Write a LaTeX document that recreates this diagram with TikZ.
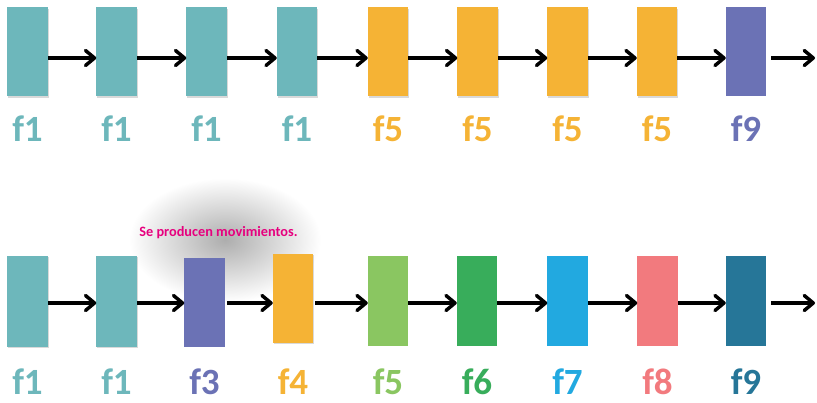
\documentclass[tikz,border=0pt]{standalone}
\usepackage{fontspec}
\setmainfont{Carlito}
\usetikzlibrary{positioning,arrows.meta,shadows}

\definecolor{fteal}{HTML}{6DB7BB}
\definecolor{forange}{HTML}{F5B335}
\definecolor{fpurple}{HTML}{6B72B5}
\definecolor{flime}{HTML}{8AC661}
\definecolor{fgreen}{HTML}{38AD5B}
\definecolor{fsky}{HTML}{22A9E0}
\definecolor{fsalmon}{HTML}{F27A7E}
\definecolor{fpetrol}{HTML}{267698}
\definecolor{fpink}{HTML}{E6007E}

\begin{document}
\begin{tikzpicture}[x=1pt,y=-1pt,
    box/.style={fill=#1,minimum width=40.5pt,minimum height=89pt,inner sep=0pt,outer sep=0pt},
    shbox/.style={box=#1,drop shadow={shadow xshift=1pt,shadow yshift=-1.5pt,opacity=.3}},
    lab/.style={text=#1,font=\bfseries\fontsize{37}{37}\selectfont,anchor=base,inner sep=0pt},
    link/.style={line width=3.5pt,-{Straight Barb[length=9pt,width=15pt,round]}}]
    \useasboundingbox (0,0) rectangle (817,403);
    \coordinate (ya) at (0,58);
    \coordinate (yb) at (0,303);
    \coordinate (lya) at (0,142);
    \coordinate (lyb) at (0,395);
    \coordinate (enda) at (815,58);
    \coordinate (endb) at (815,303);

    % soft glow behind the note
    \shade[inner color=black!32,outer color=white] (225,240) ellipse (96pt and 62pt);

    % first sequence
    \node[shbox=fteal] (a1) at (27.5,52) {};
    \node[shbox=fteal,right=48.5pt of a1] (a2) {};
    \node[shbox=fteal,right=49.5pt of a2] (a3) {};
    \node[shbox=fteal,right=50pt of a3] (a4) {};
    \node[shbox=forange,right=50.5pt of a4] (a5) {};
    \node[shbox=forange,right=49pt of a5] (a6) {};
    \node[shbox=forange,right=49.5pt of a6] (a7) {};
    \node[shbox=forange,right=49pt of a7] (a8) {};
    \node[box=fpurple,right=48.5pt of a8] (a9) {};

    % second sequence
    \node[shbox=fteal,minimum height=91pt] (b1) at (27.5,301.5) {};
    \node[shbox=fteal,minimum height=91pt,right=48.5pt of b1] (b2) {};
    \node[box=fpurple,right=47.5pt of b2,yshift=-1pt] (b3) {};
    \node[shbox=forange,right=48pt of b3,yshift=4pt] (b4) {};
    \node[box=flime,minimum height=90pt,right=54.5pt of b4,yshift=-2.5pt] (b5) {};
    \node[box=fgreen,minimum height=90pt,right=48.5pt of b5] (b6) {};
    \node[box=fsky,minimum height=90pt,right=50pt of b6] (b7) {};
    \node[box=fsalmon,minimum height=90pt,right=49.5pt of b7] (b8) {};
    \node[box=fpetrol,minimum height=90pt,right=48pt of b8] (b9) {};

    \draw[link] (a1.east |- ya) -- (a2.west |- ya);
    \draw[link] (a2.east |- ya) -- (a3.west |- ya);
    \draw[link] (a3.east |- ya) -- (a4.west |- ya);
    \draw[link] (a4.east |- ya) -- (a5.west |- ya);
    \draw[link] (a5.east |- ya) -- (a6.west |- ya);
    \draw[link] (a6.east |- ya) -- (a7.west |- ya);
    \draw[link] (a7.east |- ya) -- (a8.west |- ya);
    \draw[link] (a8.east |- ya) -- (a9.west |- ya);
    \draw[link] ([xshift=5pt]a9.east |- ya) -- (enda);

    \draw[link] (b1.east |- yb) -- (b2.west |- yb);
    \draw[link] (b2.east |- yb) -- (b3.west |- yb);
    \draw[link] ([xshift=2pt]b3.east |- yb) -- (b4.west |- yb);
    \draw[link] ([xshift=2pt]b4.east |- yb) -- (b5.west |- yb);
    \draw[link] (b5.east |- yb) -- (b6.west |- yb);
    \draw[link] (b6.east |- yb) -- (b7.west |- yb);
    \draw[link] (b7.east |- yb) -- (b8.west |- yb);
    \draw[link] (b8.east |- yb) -- (b9.west |- yb);
    \draw[link] ([xshift=5pt]b9.east |- yb) -- (endb);

    % labels
    \node[lab=fteal] (la1) at (a1 |- lya) {f1};
    \node[lab=fteal] (la2) at (a2 |- lya) {f1};
    \node[lab=fteal] (la3) at (a3 |- lya) {f1};
    \node[lab=fteal] (la4) at (a4 |- lya) {f1};
    \node[lab=forange] (la5) at (a5 |- lya) {f5};
    \node[lab=forange] (la6) at (a6 |- lya) {f5};
    \node[lab=forange] (la7) at (a7 |- lya) {f5};
    \node[lab=forange] (la8) at (a8 |- lya) {f5};
    \node[lab=fpurple] (la9) at (a9 |- lya) {f9};

    \node[lab=fteal] (lb1) at (b1 |- lyb) {f1};
    \node[lab=fteal] (lb2) at (b2 |- lyb) {f1};
    \node[lab=fpurple] (lb3) at (b3 |- lyb) {f3};
    \node[lab=forange] (lb4) at (b4 |- lyb) {f4};
    \node[lab=flime] (lb5) at (b5 |- lyb) {f5};
    \node[lab=fgreen] (lb6) at (b6 |- lyb) {f6};
    \node[lab=fsky] (lb7) at (b7 |- lyb) {f7};
    \node[lab=fsalmon] (lb8) at (b8 |- lyb) {f8};
    \node[lab=fpetrol] (lb9) at (b9 |- lyb) {f9};

    \node[text=fpink,font=\bfseries\fontsize{14.3}{14.3}\selectfont] (note) at (218.5,233) {Se producen movimientos.};
\end{tikzpicture}
\end{document}
